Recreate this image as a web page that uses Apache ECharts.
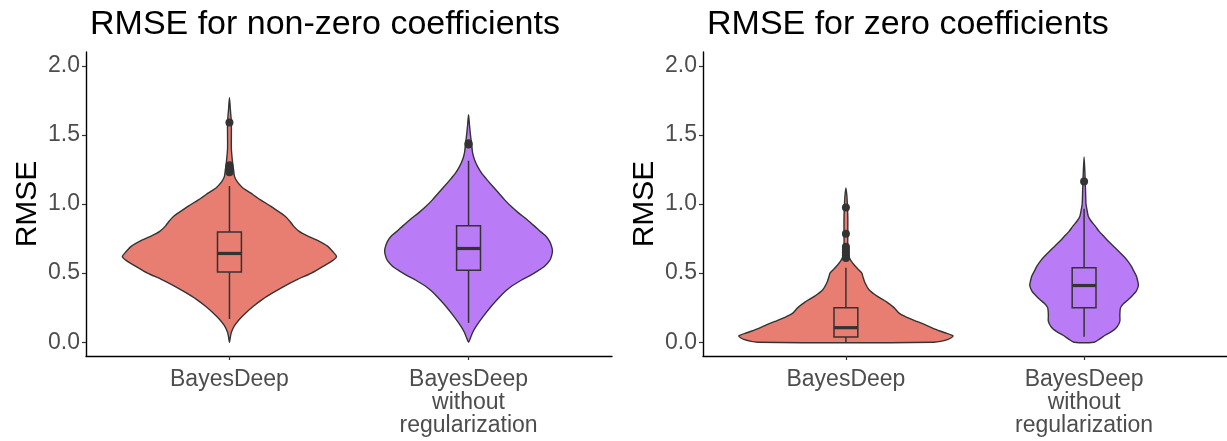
<!DOCTYPE html>
<html>
<head>
<meta charset="utf-8">
<script src="https://cdn.jsdelivr.net/npm/echarts@6/dist/echarts.min.js"></script>
<style>
html,body{margin:0;padding:0;background:#fff;}
#chart{width:1227px;height:441px;}
</style>
</head>
<body>
<div id="chart"></div>
<script>
// ---------- data ----------
const categories = ['BayesDeep', 'BayesDeep\nwithout\nregularization'];
const panelTitles = ['RMSE for non-zero coefficients', 'RMSE for zero coefficients'];
const yTicks = [0, 0.5, 1.0, 1.5, 2.0];
const fillColors = ['#E87D72', '#B97CF6'];

// violin outlines: RMSE levels and half-widths (in category units)
const nzBayesDeepLevels = [0, 0.04, 0.072, 0.12, 0.166, 0.21, 0.26, 0.31, 0.36, 0.41, 0.455, 0.5, 0.55, 0.59, 0.62, 0.65, 0.695, 0.74, 0.77, 0.8, 0.84, 0.87, 0.91, 0.95, 0.985, 1.03, 1.08, 1.12, 1.16, 1.2, 1.25, 1.3, 1.4, 1.5, 1.59, 1.68, 1.77];
const nzBayesDeepWidths = [0, 0.004, 0.008, 0.021, 0.042, 0.067, 0.1, 0.138, 0.184, 0.234, 0.285, 0.343, 0.393, 0.431, 0.448, 0.435, 0.41, 0.364, 0.326, 0.293, 0.268, 0.255, 0.234, 0.201, 0.172, 0.13, 0.088, 0.054, 0.033, 0.021, 0.017, 0.013, 0.008, 0.008, 0.008, 0.004, 0];

const nzNoRegLevels = [0, 0.03, 0.07, 0.118, 0.19, 0.262, 0.334, 0.37, 0.41, 0.45, 0.48, 0.52, 0.55, 0.59, 0.623, 0.66, 0.695, 0.73, 0.77, 0.8, 0.84, 0.89, 0.936, 0.98, 1.03, 1.08, 1.13, 1.18, 1.225, 1.27, 1.32, 1.37, 1.43, 1.5, 1.57, 1.646];
const nzNoRegWidths = [0, 0.008, 0.017, 0.033, 0.063, 0.096, 0.134, 0.155, 0.184, 0.222, 0.255, 0.293, 0.318, 0.339, 0.347, 0.351, 0.347, 0.339, 0.322, 0.301, 0.276, 0.243, 0.209, 0.18, 0.151, 0.126, 0.1, 0.075, 0.054, 0.038, 0.025, 0.017, 0.013, 0.008, 0.004, 0];

const zBayesDeepLevels = [0, 0.02, 0.045, 0.07, 0.1, 0.127, 0.15, 0.18, 0.21, 0.25, 0.29, 0.33, 0.38, 0.43, 0.476, 0.5, 0.53, 0.56, 0.59, 0.62, 0.7, 0.8, 0.9, 1.0, 1.06, 1.117];
const zBayesDeepWidths = [0.37, 0.429, 0.45, 0.412, 0.366, 0.332, 0.298, 0.256, 0.223, 0.202, 0.172, 0.134, 0.097, 0.08, 0.071, 0.067, 0.05, 0.034, 0.021, 0.013, 0.008, 0.008, 0.008, 0.006, 0.004, 0];

const zNoRegLevels = [0, 0.02, 0.05, 0.08, 0.11, 0.15, 0.2, 0.25, 0.28, 0.31, 0.34, 0.37, 0.41, 0.45, 0.48, 0.52, 0.55, 0.59, 0.623, 0.66, 0.695, 0.73, 0.77, 0.8, 0.84, 0.875, 0.91, 0.95, 1.0, 1.1, 1.2, 1.34];
const zNoRegWidths = [0.042, 0.063, 0.088, 0.118, 0.138, 0.15, 0.15, 0.153, 0.166, 0.187, 0.204, 0.219, 0.228, 0.224, 0.219, 0.207, 0.198, 0.182, 0.165, 0.144, 0.123, 0.102, 0.081, 0.064, 0.047, 0.03, 0.018, 0.013, 0.008, 0.006, 0.004, 0];

// box stats: [lower whisker, Q1, median, Q3, upper whisker]
const nzBoxStats = [[0.168, 0.507, 0.642, 0.798, 1.13], [0.14, 0.52, 0.678, 0.842, 1.313]];
const zBoxStats = [[0.0, 0.037, 0.105, 0.249, 0.538], [0.04, 0.249, 0.41, 0.538, 0.965]];

// outliers
const nzOutliersBayesDeep = [1.59, 1.28, 1.26, 1.25, 1.23];
const nzOutliersNoReg = [1.44, 1.43];
const zOutliersBayesDeep = [0.975, 0.785, 0.69, 0.67, 0.65, 0.63, 0.61];
const zOutliersNoReg = [1.162];

// ---------- chart ----------
const FONT = '"Liberation Sans", Arial, Helvetica, sans-serif';
const panels = [
  { violins: [[nzBayesDeepLevels, nzBayesDeepWidths], [nzNoRegLevels, nzNoRegWidths]], boxes: nzBoxStats, outliers: [nzOutliersBayesDeep, nzOutliersNoReg] },
  { violins: [[zBayesDeepLevels, zBayesDeepWidths], [zNoRegLevels, zNoRegWidths]], boxes: zBoxStats, outliers: [zOutliersBayesDeep, zOutliersNoReg] }
];

const grids = [
  { left: 86, top: 52, width: 526, height: 304 },
  { left: 703, top: 52, width: 524, height: 304 }
];

function violinRenderer(panel) {
  return function (params, api) {
    const idx = params.dataIndex;
    const cx = api.value(0);
    const lv = panel.violins[idx][0], wd = panel.violins[idx][1];
    const pts = [];
    for (let i = 0; i < lv.length; i++) {
      pts.push(api.coord([cx + wd[i], lv[i]]));
    }
    for (let i = lv.length - 1; i >= 0; i--) {
      if (wd[i] === 0) continue;
      pts.push(api.coord([cx - wd[i], lv[i]]));
    }
    return {
      type: 'polygon',
      shape: { points: pts, smooth: 0.25 },
      style: { fill: fillColors[idx], stroke: '#333333', lineWidth: 1.4 }
    };
  };
}

function boxRenderer(params, api) {
  const x = api.value(0);
  const lo = api.value(1), q1 = api.value(2), md = api.value(3), q3 = api.value(4), hi = api.value(5);
  const bw = 0.05;
  const c = (a, b) => api.coord([a, b]);
  const tl = c(x - bw, q3), br = c(x + bw, q1);
  const lineStyle = { stroke: '#333333', lineWidth: 1.5, fill: null };
  const pLo = c(x, lo), pQ1 = c(x, q1), pQ3 = c(x, q3), pHi = c(x, hi);
  const mL = c(x - bw, md), mR = c(x + bw, md);
  return {
    type: 'group',
    children: [
      { type: 'line', shape: { x1: pLo[0], y1: pLo[1], x2: pQ1[0], y2: pQ1[1] }, style: lineStyle },
      { type: 'line', shape: { x1: pQ3[0], y1: pQ3[1], x2: pHi[0], y2: pHi[1] }, style: lineStyle },
      { type: 'rect', shape: { x: tl[0], y: tl[1], width: br[0] - tl[0], height: br[1] - tl[1] }, style: { stroke: '#333333', lineWidth: 1.5, fill: 'rgba(0,0,0,0)' } },
      { type: 'line', shape: { x1: mL[0], y1: mL[1], x2: mR[0], y2: mR[1] }, style: { stroke: '#333333', lineWidth: 3.2 } }
    ]
  };
}

const option = {
  animation: false,
  backgroundColor: '#ffffff',
  textStyle: { fontFamily: FONT },
  title: panelTitles.map((t, i) => ({
    text: t,
    left: grids[i].left - 1,
    top: 3,
    textStyle: { fontFamily: FONT, fontSize: 34, fontWeight: 'normal', color: '#000000' }
  })),
  grid: grids,
  xAxis: grids.map((g, i) => ({
    type: 'value',
    gridIndex: i,
    min: 0.4,
    max: 2.6,
    splitLine: { show: false },
    axisLine: { show: true, onZero: false, lineStyle: { color: '#000000', width: 1.4 } },
    axisTick: { show: true, customValues: [1, 2], length: 4, lineStyle: { color: '#333333', width: 1.2 } },
    axisLabel: {
      customValues: [1, 2],
      formatter: (v) => categories[Math.round(v) - 1],
      fontFamily: FONT, fontSize: 23, color: '#4D4D4D', lineHeight: 23, margin: 12
    }
  })),
  yAxis: grids.map((g, i) => ({
    type: 'value',
    gridIndex: i,
    min: -0.1,
    max: 2.1,
    name: 'RMSE',
    nameLocation: 'middle',
    nameGap: 43,
    nameTextStyle: { fontFamily: FONT, fontSize: 30, color: '#000000' },
    splitLine: { show: false },
    axisLine: { show: true, onZero: false, lineStyle: { color: '#000000', width: 1.4 } },
    axisTick: { show: true, customValues: yTicks, length: 4, lineStyle: { color: '#333333', width: 1.2 } },
    axisLabel: {
      customValues: yTicks,
      formatter: (v) => v.toFixed(1),
      fontFamily: FONT, fontSize: 23, color: '#4D4D4D', margin: 6
    }
  })),
  series: []
};

panels.forEach((panel, i) => {
  option.series.push({
    type: 'custom',
    xAxisIndex: i, yAxisIndex: i,
    renderItem: violinRenderer(panel),
    data: categories.map((c, k) => [k + 1, 0]),
    z: 2
  });
  option.series.push({
    type: 'custom',
    xAxisIndex: i, yAxisIndex: i,
    renderItem: boxRenderer,
    data: panel.boxes.map((b, k) => [k + 1].concat(b)),
    z: 3
  });
  const pts = [];
  panel.outliers.forEach((arr, k) => arr.forEach(v => pts.push([k + 1, v])));
  option.series.push({
    type: 'scatter',
    xAxisIndex: i, yAxisIndex: i,
    data: pts,
    symbol: 'circle',
    symbolSize: 8,
    itemStyle: { color: '#333333', opacity: 1 },
    z: 4
  });
});

const chart = echarts.init(document.getElementById('chart'), null, { renderer: 'canvas' });
chart.setOption(option);
</script>
</body>
</html>
